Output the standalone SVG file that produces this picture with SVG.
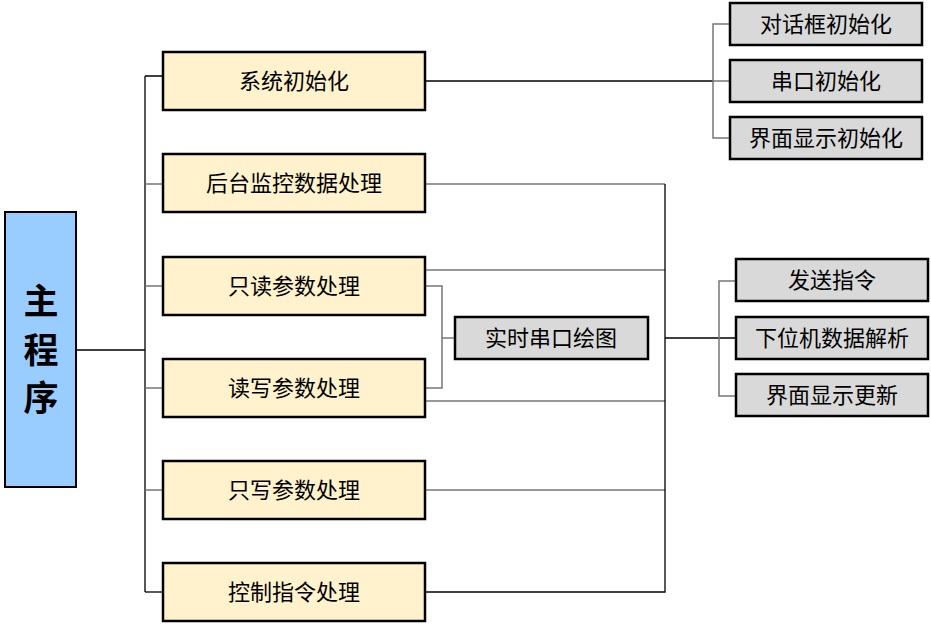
<svg xmlns="http://www.w3.org/2000/svg" width="931" height="624" viewBox="0 0 931 624">
<style>
.main{fill:#99ccff;stroke:#000;stroke-width:2}
.y{fill:#fff2cc;stroke:#000;stroke-width:2.5}
.g{fill:#d9d9d9;stroke:#000;stroke-width:2.5}
text{font-family:"Noto Sans CJK SC","Noto Sans",sans-serif;font-size:22px;fill:#000;text-anchor:middle;dominant-baseline:central}
.big{font-size:35px;font-weight:bold}
.k{stroke:#000;stroke-width:1.3;fill:none}
.q{stroke:#777;stroke-width:1.5;fill:none}
</style>
<rect width="931" height="624" fill="#fff"/>
<g id="connectors">
<path class="k" d="M76 350H145M145 76V592M145 76H163"/>
<path class="q" d="M145 184H163M145 286H163M145 388H163M145 490H163"/>
<path class="k" d="M145 592H163"/>
<path class="k" d="M425 81H713"/>
<path class="q" d="M730 24H713V138H730M713 81H730"/>
<path class="q" d="M425 184H665M425 270H665M425 401H665M425 490H665"/>
<path class="k" d="M425 592H665V184"/>
<path class="q" d="M425 286H442V388H425M442 338H455"/>
<path class="k" d="M665 338H736"/>
<path class="q" d="M736 281H719V396H736"/>
</g>
<g id="main"><rect class="main" x="5" y="212" width="71" height="275"/><text class="big" x="41" y="298">主</text><text class="big" x="41" y="347">程</text><text class="big" x="41" y="395">序</text></g>
<g id="n1"><rect class="y" x="163" y="52" width="262" height="58"/><text x="294" y="79">系统初始化</text></g>
<g id="n2"><rect class="y" x="163" y="154" width="262" height="58"/><text x="294" y="181">后台监控数据处理</text></g>
<g id="n3"><rect class="y" x="163" y="257" width="262" height="58"/><text x="294" y="284">只读参数处理</text></g>
<g id="n4"><rect class="y" x="163" y="359" width="262" height="58"/><text x="294" y="386">读写参数处理</text></g>
<g id="n5"><rect class="y" x="163" y="461" width="262" height="58"/><text x="294" y="488">只写参数处理</text></g>
<g id="n6"><rect class="y" x="163" y="563" width="262" height="58"/><text x="294" y="590">控制指令处理</text></g>
<g id="n7"><rect class="g" x="455" y="317" width="193" height="42"/><text x="551" y="336">实时串口绘图</text></g>
<g id="n8"><rect class="g" x="730" y="3" width="192" height="42"/><text x="826" y="22">对话框初始化</text></g>
<g id="n9"><rect class="g" x="730" y="60" width="192" height="42"/><text x="826" y="79">串口初始化</text></g>
<g id="n10"><rect class="g" x="730" y="117" width="192" height="42"/><text x="826" y="136">界面显示初始化</text></g>
<g id="n11"><rect class="g" x="736" y="259" width="192" height="42"/><text x="832" y="278">发送指令</text></g>
<g id="n12"><rect class="g" x="736" y="317" width="192" height="42"/><text x="832" y="336">下位机数据解析</text></g>
<g id="n13"><rect class="g" x="736" y="374" width="192" height="42"/><text x="832" y="393">界面显示更新</text></g>
</svg>
